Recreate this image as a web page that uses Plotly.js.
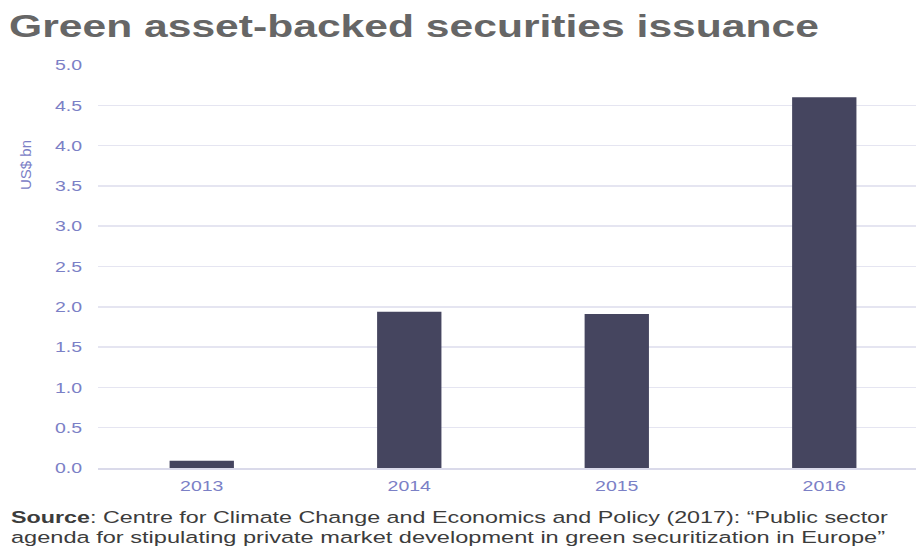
<!DOCTYPE html>
<html>
<head>
<meta charset="utf-8">
<script src="https://cdn.plot.ly/plotly-3.0.1.min.js"></script>
<style>html,body{margin:0;padding:0;background:#fff;}#chart{width:916px;height:548px;}</style>
</head>
<body>
<div id="chart"></div>
<script>
const years = ["2013", "2014", "2015", "2016"];
const issuance = [0.09, 1.94, 1.91, 4.60];
const yTicks = [0, 0.5, 1, 1.5, 2, 2.5, 3, 3.5, 4, 4.5, 5];
const yTickText = ["0.0", "0.5", "1.0", "1.5", "2.0", "2.5", "3.0", "3.5", "4.0", "4.5", "5.0"];
const titleText = "<b>Green asset-backed securities issuance</b>";
const sourceLine1 = "<b>Source</b>: Centre for Climate Change and Economics and Policy (2017): “Public sector";
const sourceLine2 = "agenda for stipulating private market development in green securitization in Europe”";

const tickColor = "#7b80c6";
const FONT = "Liberation Sans, Arial, sans-serif";
const L = 98, T = 65, B = 468, W = 818;
const px = v => (v - L) / W;
const py = v => (B - v) / (B - T);

const trace = {
  type: "bar",
  x: years,
  y: issuance,
  width: 0.31,
  marker: {color: "#45455f", line: {width: 0}},
  hoverinfo: "x+y"
};

const layout = {
  width: 916, height: 548,
  margin: {l: L, r: 916 - L - W, t: T, b: 548 - B},
  paper_bgcolor: "#fff", plot_bgcolor: "#fff",
  showlegend: false,
  xaxis: {
    type: "category",
    range: [-0.5, 3.442],
    showgrid: false,
    showline: true, linecolor: "#dadaea", linewidth: 2,
    ticks: "outside", ticklen: 3, tickcolor: "rgba(0,0,0,0)",
    tickfont: {family: FONT, size: 15, color: tickColor},
    zeroline: false
  },
  yaxis: {
    range: [0, 5],
    tickvals: yTicks, ticktext: yTickText,
    showgrid: true, gridcolor: "#e5e5f1", gridwidth: 1.5,
    zeroline: false, showline: false,
    ticks: "outside", ticklen: 12, tickcolor: "rgba(0,0,0,0)",
    tickfont: {family: FONT, size: 15, color: tickColor}
  },
  annotations: [
    {text: titleText, xref: "paper", yref: "paper",
     x: px(7), y: py(26), xanchor: "left", yanchor: "middle", showarrow: false,
     font: {family: FONT, size: 31, color: "#666666"}},
    {text: "US$ bn", xref: "paper", yref: "paper", textangle: -90,
     x: px(25), y: py(165), xanchor: "center", yanchor: "middle", showarrow: false,
     font: {family: FONT, size: 15, color: tickColor}},
    {text: sourceLine1, xref: "paper", yref: "paper",
     x: px(9), y: py(517), xanchor: "left", yanchor: "middle", align: "left", showarrow: false,
     font: {family: FONT, size: 17, color: "#3c3c3c"}},
    {text: sourceLine2, xref: "paper", yref: "paper",
     x: px(9), y: py(537), xanchor: "left", yanchor: "middle", align: "left", showarrow: false,
     font: {family: FONT, size: 17, color: "#3c3c3c"}}
  ]
};

// Horizontal stretch of text (the reference image is stretched horizontally)
function stretch(el, sx, where) {
  const bb = el.getBBox();
  const cx = where === "left" ? bb.x : where === "right" ? bb.x + bb.width : bb.x + bb.width / 2;
  const prev = el.getAttribute("transform") || "";
  el.setAttribute("transform", prev + ` translate(${cx},0) scale(${sx},1) translate(${-cx},0)`);
}
function stretchTo(el, width) {
  const bb = el.getBBox();
  stretch(el, width / bb.width, "left");
}

Plotly.newPlot("chart", [trace], layout, {displayModeBar: false, staticPlot: true}).then(gd => {
  gd.querySelectorAll(".xtick text").forEach(t => stretch(t, 1.3, "center"));
  gd.querySelectorAll(".ytick text").forEach(t => stretch(t, 1.3, "right"));
  const ann = gd.querySelectorAll(".annotation-text");
  stretchTo(ann[0], 810);
  stretchTo(ann[2], 878);
  stretchTo(ann[3], 875);
});
</script>
</body>
</html>
